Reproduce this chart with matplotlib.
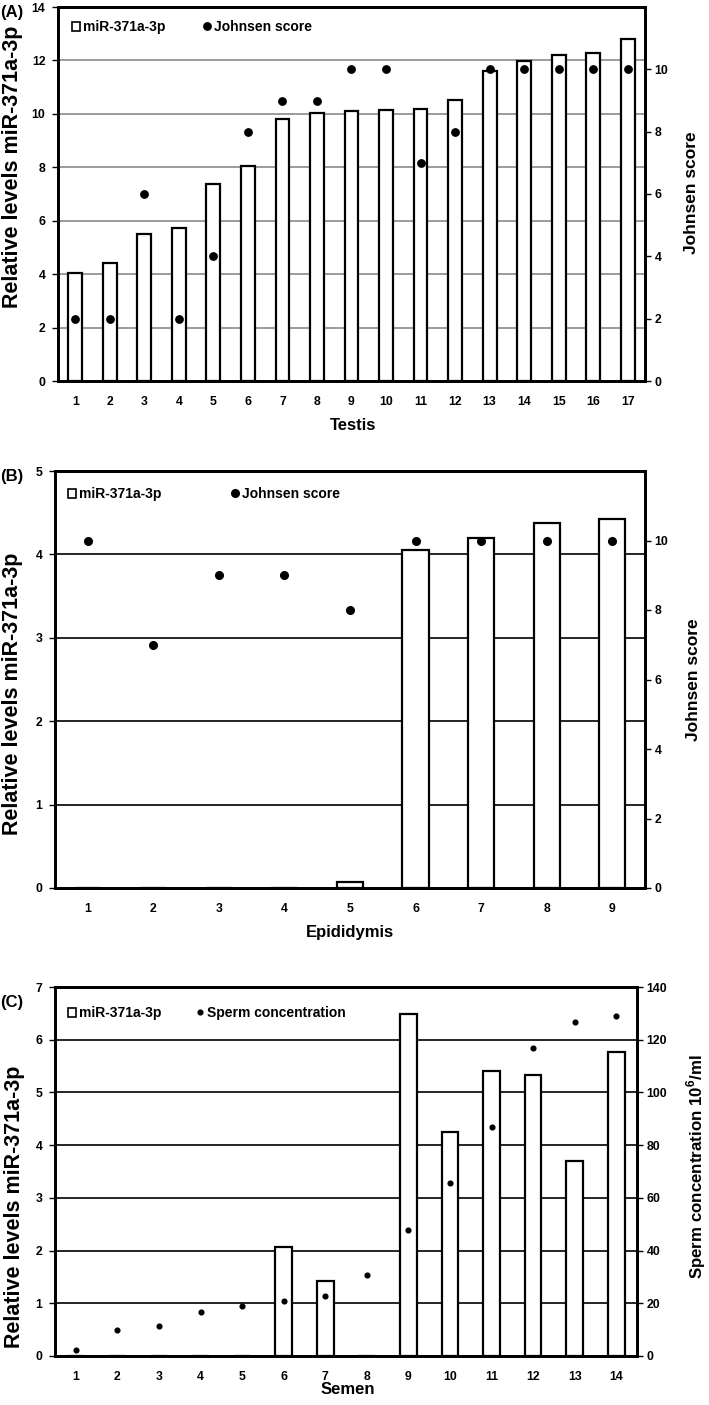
import matplotlib
matplotlib.use("Agg")
import matplotlib.pyplot as plt
from matplotlib.patches import Patch
from matplotlib.lines import Line2D

plt.rcParams['font.family'] = ['Liberation Sans', 'DejaVu Sans']
plt.rcParams['font.weight'] = 'bold'
plt.rcParams['mathtext.fontset'] = 'custom'
plt.rcParams['mathtext.rm'] = 'Liberation Sans:bold'
plt.rcParams['mathtext.bf'] = 'Liberation Sans:bold'

# (A) testis
testis = list(range(1, 18))
testis_mir = [4.05, 4.40, 5.52, 5.72, 7.39, 8.06, 9.82, 10.03, 10.11, 10.16,
              10.19, 10.52, 11.61, 11.98, 12.22, 12.27, 12.80]
testis_johnsen = [2, 2, 6, 2, 4, 8, 9, 9, 10, 10, 7, 8, 10, 10, 10, 10, 10]

# (B) epididymis
epid = list(range(1, 10))
epid_mir = [0, 0, 0, 0, 0.07, 4.05, 4.20, 4.38, 4.43]
epid_johnsen = [10, 7, 9, 9, 8, 10, 10, 10, 10]

# (C) semen
semen = list(range(1, 15))
semen_mir = [0, 0, 0, 0, 0, 2.06, 1.43, 0, 6.48, 4.25, 5.41, 5.34, 3.69, 5.77]
semen_conc = [2.4, 9.7, 11.4, 16.7, 18.8, 20.7, 22.8, 30.7, 47.8, 65.8,
              86.9, 116.9, 126.9, 128.9]

W, H = 709, 1405
fig = plt.figure(figsize=(W / 100, H / 100), dpi=100)


def rect(l, r, t, b):
    return [l / W, 1 - b / H, (r - l) / W, (b - t) / H]


def ftext(x, y, s, **kw):
    fig.text(x / W, 1 - y / H, s, ha='center', va='center', **kw)


def panel(box, x, mir, right, ylim, yticks, rlim, rticks, grid_color,
          ms, right_name, leg_anchor, colspace):
    ax = fig.add_axes(rect(*box))
    ax.bar(x, mir, width=0.4, color='white', edgecolor='black',
           linewidth=1.6, zorder=2)
    ax.set_xlim(0.5, len(x) + 0.5)
    ax.set_ylim(*ylim)
    ax.set_yticks(yticks)
    ax.set_xticks(x)
    ax.yaxis.grid(True, color=grid_color, linewidth=1.2)
    ax.set_axisbelow(True)
    ax.tick_params(axis='y', direction='out', length=4, width=1,
                   labelsize=8.8, pad=5)
    ax.tick_params(axis='x', length=0, labelsize=8.8, pad=11)
    for s in ax.spines.values():
        s.set_linewidth(2)

    ax2 = ax.twinx()
    ax2.plot(x, right, 'o', color='black', ms=ms, zorder=3)
    ax2.set_ylim(*rlim)
    ax2.set_yticks(rticks)
    ax2.tick_params(axis='y', direction='out', length=4, width=1,
                    labelsize=8.8, pad=3)
    for s in ax2.spines.values():
        s.set_linewidth(2)

    handles = [Patch(facecolor='white', edgecolor='black', linewidth=1.2),
               Line2D([], [], marker='o', color='black', ls='none', ms=ms)]
    ax2.legend(handles, ['miR-371a-3p', right_name], loc='center left',
               bbox_to_anchor=leg_anchor, ncol=2, frameon=False,
               borderaxespad=0, borderpad=0, handlelength=0.6,
               handleheight=0.6, handletextpad=0.2, columnspacing=colspace,
               prop={'size': 10, 'weight': 'bold'})
    return ax, ax2


# panel A
panel((58, 645, 7, 381), testis, testis_mir, testis_johnsen, (0, 14),
      range(0, 15, 2), (0, 12), range(0, 11, 2), '#8a8a8a', 5.3,
      'Johnsen score', (0.024, 1 - 20 / 374), 2.7)
ftext(12, 13, '(A)', fontsize=12)
ftext(13, 167, 'Relative levels miR-371a-3p', fontsize=15.5, rotation=90)
ftext(691, 193, 'Johnsen score', fontsize=12.5, rotation=90)
ftext(353, 425, 'Testis', fontsize=12)

# panel B
panel((55, 645, 471, 888), epid, epid_mir, epid_johnsen, (0, 5),
      range(0, 6), (0, 12), range(0, 11, 2), 'black', 5.5,
      'Johnsen score', (0.022, 1 - 23 / 417), 5.0)
ftext(12, 477, '(B)', fontsize=12)
ftext(13, 694, 'Relative levels miR-371a-3p', fontsize=15.5, rotation=90)
ftext(693, 680, 'Johnsen score', fontsize=12.5, rotation=90)
ftext(350, 933, 'Epididymis', fontsize=12)

# panel C
panel((55, 637, 987, 1356), semen, semen_mir, semen_conc, (0, 7),
      range(0, 8), (0, 140), range(0, 141, 20), 'black', 3.4,
      'Sperm concentration', (0.022, 1 - 26 / 369), 2.5)
ftext(12, 1002, '(C)', fontsize=12)
ftext(15, 1207, 'Relative levels miR-371a-3p', fontsize=15.5, rotation=90)
ftext(696, 1167, r'Sperm concentration 10$^{6}$/ml', fontsize=12.2,
      rotation=90)
ftext(348, 1390, 'Semen', fontsize=12)

fig.savefig('out.png', dpi=100)
